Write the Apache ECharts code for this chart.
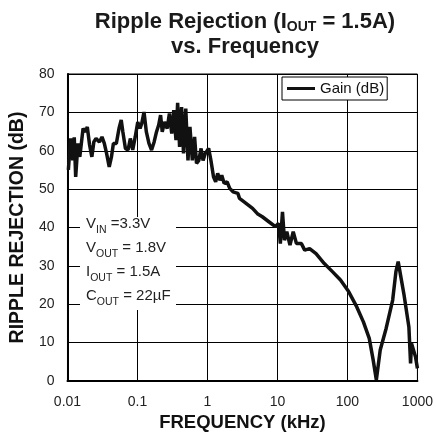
<!DOCTYPE html>
<html>
<head>
<meta charset="utf-8">
<script src="https://cdn.jsdelivr.net/npm/echarts@6/dist/echarts.min.js"></script>
<style>
html, body { margin: 0; padding: 0; background: #fff; }
#box1 { width: 436px; height: 445px; }
</style>
</head>
<body>
<div id="box1"></div>
<script>
// frequency in kHz
var freq = [0.0103, 0.0111, 0.0119, 0.0125, 0.0131, 0.0141, 0.0150, 0.0167, 0.0180, 0.0192,
    0.0207, 0.0223, 0.0238, 0.0256, 0.0286, 0.0311, 0.0336, 0.0362, 0.0395, 0.0425,
    0.0453, 0.0499, 0.0545, 0.0586, 0.0619, 0.0673, 0.0734, 0.0791, 0.0855, 0.0929,
    0.101, 0.109, 0.115, 0.124, 0.134, 0.146, 0.159, 0.173, 0.187, 0.201,
    0.214, 0.226, 0.244, 0.266, 0.286, 0.309, 0.330, 0.355, 0.375, 0.400,
    0.427, 0.455, 0.490, 0.527, 0.562, 0.608, 0.655, 0.698, 0.752, 0.811,
    0.865, 0.931, 1.04, 1.12, 1.22, 1.31, 1.40, 1.51, 1.60, 1.73,
    1.91, 2.08, 2.32, 2.72, 2.87, 3.56, 4.41, 5.17, 6.08, 7.54,
    9.35, 10.4, 11.0, 11.8, 12.6, 13.6, 15.1, 16.8, 18.7, 22.0,
    24.5, 28.8, 35.6, 46.7, 61.0, 79.6, 104, 136, 169, 205,
    233, 259, 294, 357, 443, 493, 531, 579, 644, 755,
    798, 824, 938, 1000];
// ripple rejection in dB
var gain = [55, 63.2, 57.5, 63.5, 53.2, 61.9, 58.4, 65.8, 64.9, 66.2,
    61.5, 58.4, 62.3, 63.2, 62.3, 63.6, 61.9, 59.3, 55.8, 58.4,
    61.9, 61.9, 65.8, 68, 64.9, 60.6, 60.2, 63.2, 60.2, 63.6,
    67.5, 65.8, 67.1, 70.1, 64.9, 61.9, 60.2, 62.3, 64.9, 66.7,
    69.3, 64.9, 67.5, 65.8, 69.7, 64.5, 70.6, 62.8, 72.5, 61,
    71.4, 59.3, 71, 57.5, 66.2, 57.5, 63.6, 56.7, 57.5, 60.6,
    57.5, 59.3, 60.6, 57.5, 53.2, 51.9, 54.1, 52.3, 53.6, 51.5,
    51.9, 50.2, 49.3, 48.9, 47.6, 46.3, 45, 43.6, 42.8, 41.5,
    40.2, 41.1, 35.8, 44.1, 36.7, 38.9, 35.4, 38.9, 35.8, 35.8,
    34.1, 34.5, 33.2, 30.6, 28.5, 26.3, 23.3, 19.3, 15.4, 11.1,
    5.5, 0.3, 8.1, 13.7, 21.1, 28.5, 31.1, 27.2, 22.4, 14.1,
    4.6, 9.8, 6.3, 3.3];
var xTicks = ['0.01', '0.1', '1', '10', '100', '1000'];
var yTicks = [0, 10, 20, 30, 40, 50, 60, 70, 80];

var font = "'Liberation Sans', Arial, sans-serif";
var seriesData = [];
for (var i = 0; i < freq.length; i++) {
    seriesData.push([freq[i], gain[i]]);
}

var chart = echarts.init(document.getElementById('box1'));
var option = {
    animation: false,
    textStyle: { fontFamily: font },
    grid: { left: 64, right: 14, top: 74, bottom: 64, show: true, borderColor: '#000', borderWidth: 1 },
    legend: {
        data: ['Gain (dB)'],
        left: 282,
        top: 77,
        icon: 'rect',
        itemWidth: 28,
        itemHeight: 3,
        padding: [4, 3, 4, 5],
        borderColor: '#000',
        borderWidth: 1,
        borderRadius: 0,
        backgroundColor: '#fff',
        textStyle: { fontFamily: font, fontSize: 15, color: '#111' }
    },
    xAxis: {
        type: 'log',
        logBase: 10,
        min: 0.01,
        max: 1000,
        name: 'FREQUENCY (kHz)',
        nameLocation: 'middle',
        nameGap: 31,
        nameTextStyle: { fontFamily: font, fontSize: 18.5, fontWeight: 'bold', color: '#111' },
        axisLine: { lineStyle: { color: '#000', width: 2 } },
        axisTick: { show: false },
        axisLabel: {
            margin: 14, fontSize: 14, color: '#222', showMaxLabel: true,
            formatter: function (v) {
                var s = xTicks.filter(function (t) { return Math.abs(parseFloat(t) - v) < 1e-6 * parseFloat(t); });
                return s.length ? s[0] : '';
            }
        },
        splitLine: { show: true, lineStyle: { color: '#000', width: 1 } },
        minorSplitLine: { show: false }
    },
    yAxis: {
        type: 'value',
        min: yTicks[0],
        max: yTicks[yTicks.length - 1],
        interval: 10,
        name: 'RIPPLE REJECTION (dB)',
        nameLocation: 'middle',
        nameGap: 38,
        nameTextStyle: { fontFamily: font, fontSize: 19.5, fontWeight: 'bold', color: '#111' },
        axisLine: { show: true, lineStyle: { color: '#000', width: 2 } },
        axisTick: { show: false },
        axisLabel: { margin: 13, fontSize: 14, color: '#222' },
        splitLine: { show: true, lineStyle: { color: '#000', width: 1 } }
    },
    series: [{
        name: 'Gain (dB)',
        type: 'line',
        data: seriesData,
        showSymbol: false,
        symbol: 'none',
        color: '#111',
        lineStyle: { color: '#111', width: 3.5 },
        z: 3
    }],
    graphic: [
        {
            type: 'text',
            x: 245, y: 9,
            style: {
                align: 'center',
                text: 'Ripple Rejection (I{s|OUT} = 1.5A)\nvs. Frequency',
                font: 'bold 22px ' + font,
                fill: '#1a1a1a',
                lineHeight: 25,
                rich: {
                    s: { fontSize: 14, fontWeight: 'bold', verticalAlign: 'bottom', lineHeight: 22 }
                }
            }
        },
        {
            type: 'rect',
            shape: { x: 80, y: 217, width: 96, height: 93 },
            style: { fill: '#fff' },
            z: 5
        },
        {
            type: 'text',
            x: 86, y: 212,
            z: 6,
            style: {
                text: 'V{s|IN} =3.3V\nV{s|OUT} = 1.8V\nI{s|OUT} = 1.5A\nC{s|OUT} = 22µF',
                font: '15px ' + font,
                fill: '#222',
                lineHeight: 24,
                rich: {
                    s: { fontSize: 10.5, verticalAlign: 'bottom', lineHeight: 21 }
                }
            }
        }
    ]
};
chart.setOption(option);
</script>
</body>
</html>
